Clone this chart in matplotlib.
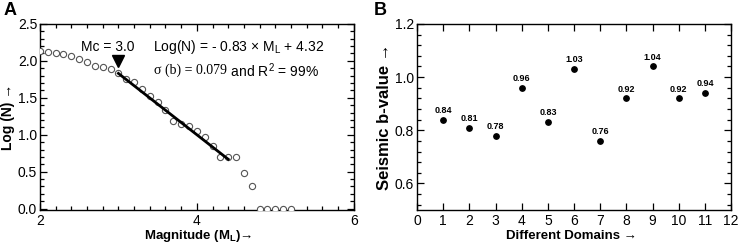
import matplotlib
matplotlib.use("Agg")
import matplotlib.pyplot as plt
import numpy as np
from matplotlib.ticker import MultipleLocator, FormatStrFormatter

plt.rcParams['font.family'] = ['Liberation Sans', 'DejaVu Sans']
plt.rcParams['mathtext.fontset'] = 'custom'
plt.rcParams['mathtext.rm'] = 'Liberation Sans'
plt.rcParams['mathtext.it'] = 'Liberation Sans:italic'
plt.rcParams['mathtext.bf'] = 'Liberation Sans:bold'

# Panel A data: frequency-magnitude distribution
magnitudes = [2.0, 2.1, 2.2, 2.3, 2.4, 2.5, 2.6, 2.7, 2.8, 2.9, 3.0, 3.1, 3.2, 3.3,
              3.4, 3.5, 3.6, 3.7, 3.8, 3.9, 4.0, 4.1, 4.2, 4.3, 4.4, 4.5, 4.6, 4.7,
              4.8, 4.9, 5.0, 5.1, 5.2]
log_n = [2.14, 2.12, 2.105, 2.09, 2.07, 2.03, 1.99, 1.93, 1.92, 1.89, 1.83, 1.76, 1.71,
         1.62, 1.52, 1.44, 1.33, 1.18, 1.14, 1.12, 1.05, 0.97, 0.85, 0.70, 0.70, 0.70,
         0.48, 0.30, 0.0, 0.0, 0.0, 0.0, 0.0]
fit_slope = -0.83
fit_intercept = 4.32
fit_range = [3.0, 4.4]
mc_value = 3.0

# Panel B data
domains = [1, 2, 3, 4, 5, 6, 7, 8, 9, 10, 11]
b_values = [0.84, 0.81, 0.78, 0.96, 0.83, 1.03, 0.76, 0.92, 1.04, 0.92, 0.94]

fig = plt.figure(figsize=(7.4, 2.44), dpi=100)
axA = fig.add_axes([0.054, 0.139, 0.424, 0.763])
axB = fig.add_axes([0.5635, 0.139, 0.4245, 0.763])

tick_fs = 10
label_fs = 9.5

def style_axes(ax):
    for s in ax.spines.values():
        s.set_linewidth(1.0)
        s.set_color('black')
    ax.tick_params(which='both', direction='in', top=True, right=True,
                   labelsize=tick_fs, width=0.9, color='black')
    ax.tick_params(axis='y', pad=2)
    ax.tick_params(axis='x', pad=2.5)
    ax.tick_params(which='major', length=5)
    ax.tick_params(which='minor', length=3)

# ---- Panel A ----
axA.scatter(magnitudes, log_n, s=20, facecolors='white', edgecolors='#555555',
            linewidths=0.8, zorder=3)
xf = np.array(fit_range)
axA.plot(xf, fit_slope * xf + fit_intercept, color='black', lw=2.0, zorder=4)
axA.plot([mc_value], [2.0], marker='v', color='black', markersize=8, zorder=5)
axA.text(2.86, 2.19, 'Mc = 3.0', ha='center', va='center', fontsize=10)
axA.text(5.63, 2.19, r'Log(N) = - 0.83 $\times$ M$_\mathregular{L}$ + 4.32',
         ha='right', va='center', fontsize=10)
t1 = axA.text(3.45, 1.87, 'σ (b) = 0.079', ha='left', va='center', fontsize=10,
              family=['Liberation Serif', 'DejaVu Serif'])
axA.annotate(' and R$^\\mathregular{2}$ = 99%', xy=(1, 0.5), xycoords=t1,
             ha='left', va='center', fontsize=10)
axA.set_xlim(2, 6)
axA.set_ylim(-0.02, 2.5)
axA.xaxis.set_major_locator(MultipleLocator(2))
axA.xaxis.set_minor_locator(MultipleLocator(0.2))
axA.yaxis.set_major_locator(MultipleLocator(0.5))
axA.yaxis.set_minor_locator(MultipleLocator(0.1))
axA.yaxis.set_major_formatter(FormatStrFormatter('%.1f'))
style_axes(axA)
axA.set_ylabel('Log (N) →', fontsize=10, fontweight='bold', labelpad=2)
fig.text(0.268, 0.022, 'Magnitude (M$_\\mathbf{L}$)→', fontsize=label_fs,
         fontweight='bold', ha='center', va='baseline')
fig.text(0.005, 0.99, 'A', fontsize=13, fontweight='bold', ha='left', va='top')

# ---- Panel B ----
axB.scatter(domains, b_values, s=15, color='black', zorder=3)
for d, b in zip(domains, b_values):
    axB.annotate(f'{b:.2f}', xy=(d, b), xytext=(0, 3.5), textcoords='offset points',
                 ha='center', va='bottom', fontsize=6.5, fontweight='bold')
axB.set_xlim(0, 12)
axB.set_ylim(0.5, 1.2)
axB.xaxis.set_major_locator(MultipleLocator(1))
axB.yaxis.set_major_locator(MultipleLocator(0.2))
axB.yaxis.set_minor_locator(MultipleLocator(0.04))
axB.yaxis.set_major_formatter(FormatStrFormatter('%.1f'))
style_axes(axB)
axB.set_ylabel('Seismic b-value →', fontsize=12, fontweight='bold', labelpad=2)
fig.text(0.7725, 0.02, 'Different Domains →', fontsize=label_fs,
         fontweight='bold', ha='center', va='baseline')
fig.text(0.505, 0.99, 'B', fontsize=13, fontweight='bold', ha='left', va='top')

fig.savefig('out.png', dpi=100)
